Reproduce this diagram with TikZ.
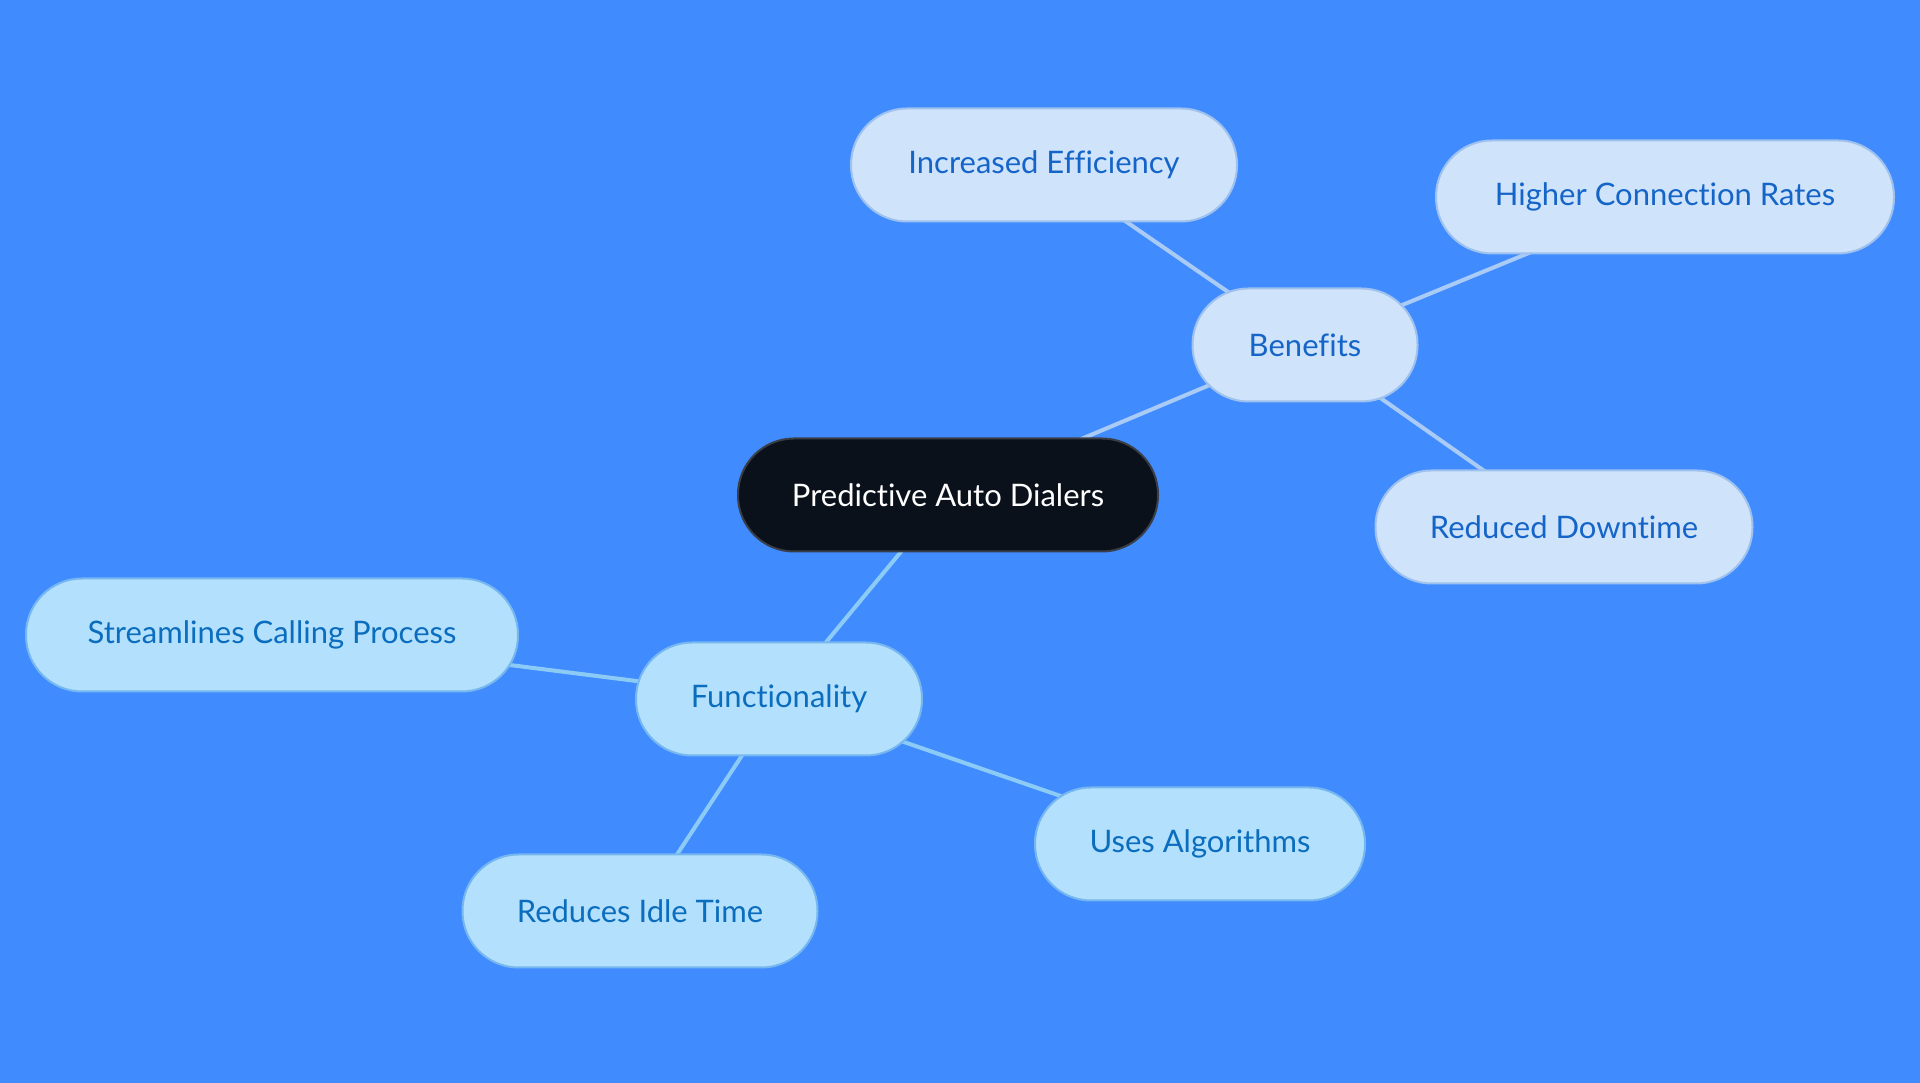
\documentclass[tikz,border=0pt]{standalone}
\usepackage{fontspec}
\setmainfont{Lato}[Ligatures={NoCommon,NoRare,NoDiscretionary}]
\usetikzlibrary{backgrounds}
\definecolor{bg}{HTML}{408CFF}
\definecolor{cfill}{HTML}{0B111B}
\definecolor{cline}{HTML}{3A3F47}
\definecolor{bfill}{HTML}{CFE3FB}
\definecolor{bline}{HTML}{9EC1EE}
\definecolor{btext}{HTML}{1565C8}
\definecolor{ffill}{HTML}{B3E0FD}
\definecolor{fline}{HTML}{76B7F0}
\definecolor{ftext}{HTML}{0B6DBD}
\definecolor{bedge}{HTML}{A9CBF5}
\definecolor{fedge}{HTML}{8DCBF7}
\tikzset{
  pill/.style={rectangle, rounded corners=56pt, minimum height=113pt, line width=2pt, inner sep=0pt,
    font=\fontsize{31}{37}\selectfont},
  central/.style={pill, fill=cfill, draw=cline, text=white},
  bnode/.style={pill, fill=bfill, draw=bline, text=btext},
  fnode/.style={pill, fill=ffill, draw=fline, text=ftext},
  bconn/.style={draw=bedge, line width=4pt},
  fconn/.style={draw=fedge, line width=4pt}
}
\begin{document}
\begin{tikzpicture}[x=1pt,y=1pt]
\useasboundingbox (0,0) rectangle (1920,1083);
\node[central, minimum width=420pt] (c) at (948,588) {Predictive Auto Dialers};
\node[bnode, minimum width=225pt] (b) at (1305,738) {Benefits};
\node[bnode, minimum width=386pt] (b1) at (1044,918) {Increased Efficiency};
\node[bnode, minimum width=458pt] (b2) at (1665,886) {Higher Connection Rates};
\node[bnode, minimum width=377pt] (b3) at (1564,556) {Reduced Downtime};
\node[fnode, minimum width=286pt] (f) at (779,384) {Functionality};
\node[fnode, minimum width=492pt] (f1) at (272,448) {Streamlines Calling Process};
\node[fnode, minimum width=330pt] (f2) at (1200,239) {Uses Algorithms};
\node[fnode, minimum width=355pt] (f3) at (640,172) {Reduces Idle Time};
\begin{scope}[on background layer]
\fill[bg] (0,0) rectangle (1920,1083);
\draw[bconn] (c.center) -- (b.center);
\draw[bconn] (b.center) -- (b1.center);
\draw[bconn] (b.center) -- (b2.center);
\draw[bconn] (b.center) -- (b3.center);
\draw[fconn] (c.center) -- (f.center);
\draw[fconn] (f.center) -- (f1.center);
\draw[fconn] (f.center) -- (f2.center);
\draw[fconn] (f.center) -- (f3.center);
\end{scope}
\end{tikzpicture}
\end{document}
